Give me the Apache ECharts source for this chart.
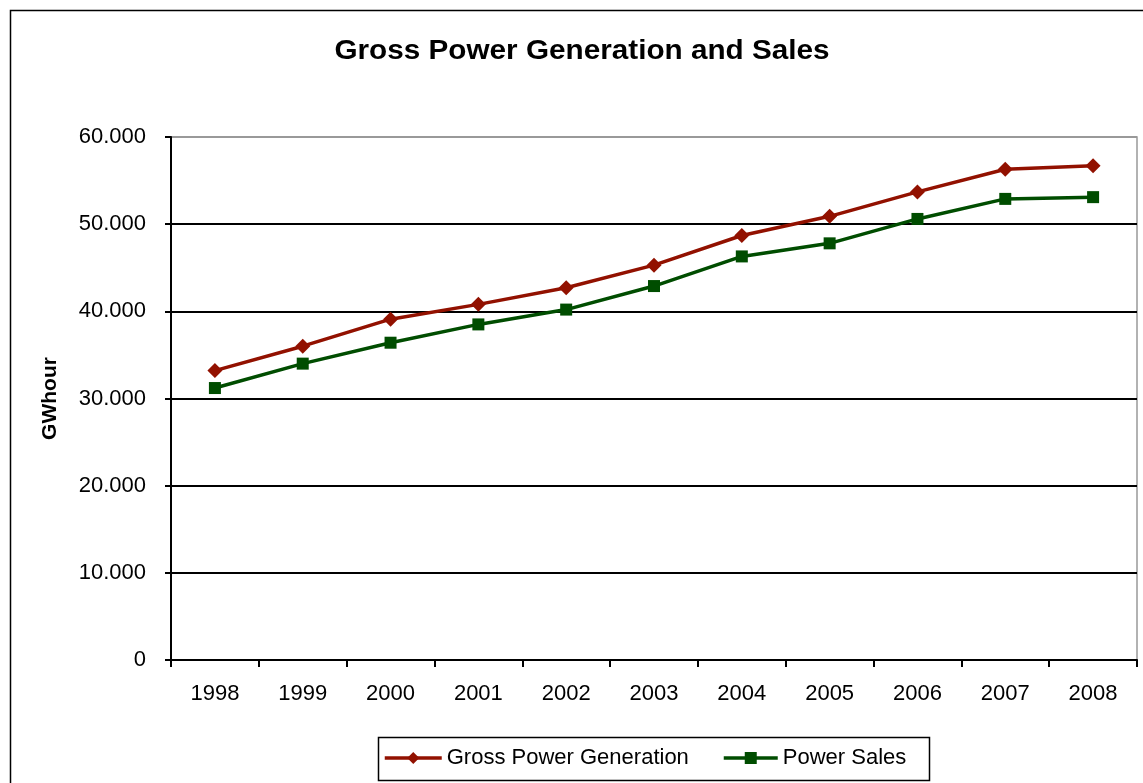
<!DOCTYPE html>
<html>
<head>
<meta charset="utf-8">
<script src="https://cdn.jsdelivr.net/npm/echarts@6/dist/echarts.min.js"></script>
<style>
  html, body { margin: 0; padding: 0; background: #fff; }
  #chart { width: 1143px; height: 783px; }
</style>
</head>
<body>
<div id="chart"></div>
<script>
// Annual figures, GWhour
const years = ['1998','1999','2000','2001','2002','2003','2004','2005','2006','2007','2008'];
const grossGeneration = [33200, 36000, 39100, 40800, 42700, 45300, 48700, 50900, 53700, 56300, 56700];
const powerSales = [31200, 34000, 36400, 38500, 40200, 42900, 46300, 47800, 50600, 52900, 53100];
const seriesNames = ['Gross Power Generation', 'Power Sales'];
const chartTitle = 'Gross Power Generation and Sales';

const FONT = '"Liberation Sans", Arial, sans-serif';
const RED = '#921100';
const GREEN = '#004D00';

// 60000 -> "60.000"
function fmtThousands(v) {
  return String(v).replace(/\B(?=(\d{3})+(?!\d))/g, '.');
}

const legendText = { fontFamily: FONT, fontSize: 22, color: '#000' };

const chart = echarts.init(document.getElementById('chart'), null, { renderer: 'canvas' });

chart.setOption({
  backgroundColor: '#fff',
  animation: false,
  graphic: [
    {
      // outer chart frame
      type: 'rect',
      shape: { x: 10.5, y: 10.5, width: 1160, height: 800 },
      style: { fill: null, stroke: '#000', lineWidth: 1.5 },
      silent: true
    },
    {
      // wide bold heading
      type: 'text',
      x: 582, y: 52,
      scaleX: 1.1,
      style: {
        text: chartTitle,
        fontFamily: FONT, fontSize: 27, fontWeight: 'bold',
        fill: '#000', align: 'center', verticalAlign: 'middle'
      },
      silent: true
    },
    {
      // legend frame
      type: 'rect',
      shape: { x: 378.5, y: 737.5, width: 551, height: 43 },
      style: { fill: null, stroke: '#000', lineWidth: 1.5 },
      silent: true
    }
  ],
  legend: [
    {
      left: 383, top: 747, padding: 0,
      itemWidth: 57, itemHeight: 15,
      lineStyle: { width: 3.5 },
      textStyle: legendText,
      data: [seriesNames[0]]
    },
    {
      left: 722, top: 747, padding: 0,
      itemWidth: 54, itemHeight: 15,
      lineStyle: { width: 3.5 },
      textStyle: legendText,
      data: [seriesNames[1]]
    }
  ],
  grid: {
    left: 171, right: 6, top: 137, bottom: 123,
    show: true, borderColor: '#999', borderWidth: 1.5, backgroundColor: 'transparent'
  },
  xAxis: {
    type: 'category',
    data: years,
    boundaryGap: true,
    axisLine: { lineStyle: { color: '#000', width: 2 } },
    axisTick: { show: true, length: 7, lineStyle: { color: '#000', width: 2 } },
    axisLabel: { fontFamily: FONT, fontSize: 22, color: '#000', margin: 23 },
    splitLine: { show: false }
  },
  yAxis: {
    type: 'value',
    min: 0, max: 60000, interval: 10000,
    name: 'GWhour',
    nameLocation: 'middle',
    nameRotate: 90,
    nameGap: 110,
    nameTextStyle: { fontFamily: FONT, fontSize: 21, fontWeight: 'bold', color: '#000' },
    axisLine: { show: true, lineStyle: { color: '#000', width: 2 } },
    axisTick: { show: true, length: 6, lineStyle: { color: '#000', width: 2 } },
    axisLabel: { fontFamily: FONT, fontSize: 22, color: '#000', margin: 25, formatter: fmtThousands },
    splitLine: { show: true, lineStyle: { color: ['#000', '#000', '#000', '#000', '#000', '#000', '#999'], width: 2 } }
  },
  series: [
    {
      name: seriesNames[0],
      type: 'line',
      data: grossGeneration,
      symbol: 'diamond',
      symbolSize: [15, 15],
      showAllSymbol: true,
      lineStyle: { color: RED, width: 3.5 },
      itemStyle: { color: RED },
      z: 3
    },
    {
      name: seriesNames[1],
      type: 'line',
      data: powerSales,
      symbol: 'rect',
      symbolSize: [12, 12],
      showAllSymbol: true,
      lineStyle: { color: GREEN, width: 3.5 },
      itemStyle: { color: GREEN },
      z: 4
    }
  ]
});
</script>
</body>
</html>
